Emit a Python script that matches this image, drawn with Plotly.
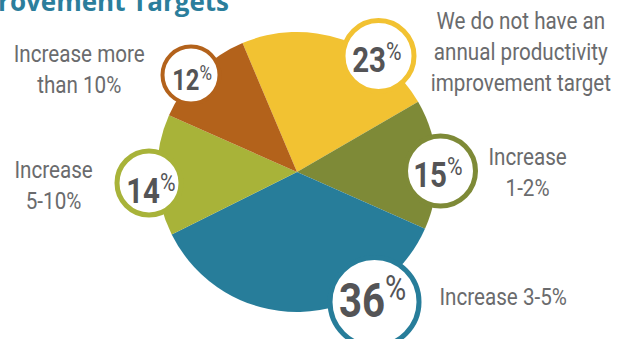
import json
import plotly.graph_objects as go

# Survey shares
categories = [
    "We do not have an annual productivity improvement target",
    "Increase 1-2%",
    "Increase 3-5%",
    "Increase 5-10%",
    "Increase more than 10%",
]
shares = [23, 15, 36, 14, 12]
label_lines = [
    "We do not have an<br>annual productivity<br>improvement target",
    "Increase<br>1-2%",
    "Increase 3-5%",
    "Increase<br>5-10%",
    "Increase more<br>than 10%",
]
slice_colors = ["#F2C232", "#7E8A37", "#277D9A", "#A8B339", "#B3621B"]

W, H = 631, 339
CX, CY, R = 297, 172, 140

# badge geometry (pixel space, y grows downward):
# ring cx, cy, radius, border width, number x, number y, digit font size
badges = [
    (378.5, 56, 35.5, 5, 377, 57.5, 36),
    (440.5, 171, 35, 5, 438, 172.5, 36),
    (374.5, 302, 44.5, 5, 372.5, 296, 49),
    (149, 183, 32, 5, 151, 188, 36),
    (191, 75, 28.5, 4, 192, 77.5, 29),
]
# caption centres: x, y
captions = [
    (521, 52),
    (527, 172),
    (503, 297),
    (53, 185),
    (79, 69),
]

NUM_FONT = "Roboto, Liberation Sans, sans-serif"
TEXT_FONT = "Roboto, Liberation Sans, sans-serif"
NUM_SQUEEZE = 0.82   # horizontal squeeze giving a condensed look
TEXT_SQUEEZE = 0.86

fig = go.Figure()
fig.add_trace(go.Pie(
    labels=categories,
    values=shares,
    marker=dict(colors=slice_colors, line=dict(width=0)),
    sort=False,
    direction="clockwise",
    rotation=-22.9,
    textinfo="none",
    hoverinfo="skip",
    showlegend=False,
    domain=dict(x=[(CX - R) / W, (CX + R) / W],
                y=[(H - CY - R) / H, (H - CY + R) / H]),
))

shapes = []
annotations = []
squeeze = []
for (bx, by, br, bw, nx, ny, fs), col, val in zip(badges, slice_colors, shares):
    shapes.append(dict(
        type="circle", xref="x", yref="y", layer="above",
        x0=bx - br, x1=bx + br, y0=by - br, y1=by + br,
        fillcolor="white", line=dict(color=col, width=bw),
    ))
    annotations.append(dict(
        x=nx, y=ny, xref="x", yref="y", showarrow=False,
        text=f"<b>{val}</b><sup>%</sup>",
        font=dict(family=NUM_FONT, size=fs, color="#545456"),
        xanchor="center", yanchor="middle",
    ))
    squeeze.append(NUM_SQUEEZE)

for (tx, ty), txt in zip(captions, label_lines):
    annotations.append(dict(
        x=tx, y=ty, xref="x", yref="y", showarrow=False,
        text=txt, align="center",
        font=dict(family=TEXT_FONT, size=24, color="#6A6B6D"),
        xanchor="center", yanchor="middle",
    ))
    squeeze.append(TEXT_SQUEEZE)

annotations.append(dict(
    x=231 / W, y=1 - 1 / H, xref="paper", yref="paper", showarrow=False,
    text="<b>Annual Productivity Improvement Targets</b>",
    font=dict(family="Open Sans, sans-serif", size=26, color="#2B7E9C"),
    xanchor="right", yanchor="middle",
))
squeeze.append(1.0)

fig.update_layout(
    width=W, height=H,
    margin=dict(l=0, r=0, t=0, b=0),
    paper_bgcolor="white", plot_bgcolor="white",
    xaxis=dict(range=[0, W], visible=False, fixedrange=True),
    yaxis=dict(range=[H, 0], visible=False, fixedrange=True),
    shapes=shapes,
    annotations=annotations,
)

# narrow the annotation glyphs around their anchor x and sit the
# percent signs level with the top of the digits
condense_js = """
var gd = document.getElementById('{plot_id}');
var sx = %s;
gd.querySelectorAll('g.annotation').forEach(function(g) {
  var i = +g.getAttribute('data-index');
  var s = sx[i];
  if (!s || s === 1) return;
  var t = g.querySelector('text.annotation-text');
  if (!t) return;
  t.querySelectorAll('tspan').forEach(function(ts) {
    if (ts.textContent === '%%' && ts.getAttribute('dy')) {
      ts.style.fontSize = '72%%';
      ts.setAttribute('dy', '-0.48em');
    }
  });
  var x = parseFloat(t.getAttribute('x')) || 0;
  t.setAttribute('transform',
    'translate(' + x + ',0) scale(' + s + ',1) translate(' + (-x) + ',0)');
});
""" % json.dumps(squeeze)

fig.write_html("out.html", post_script=condense_js)
